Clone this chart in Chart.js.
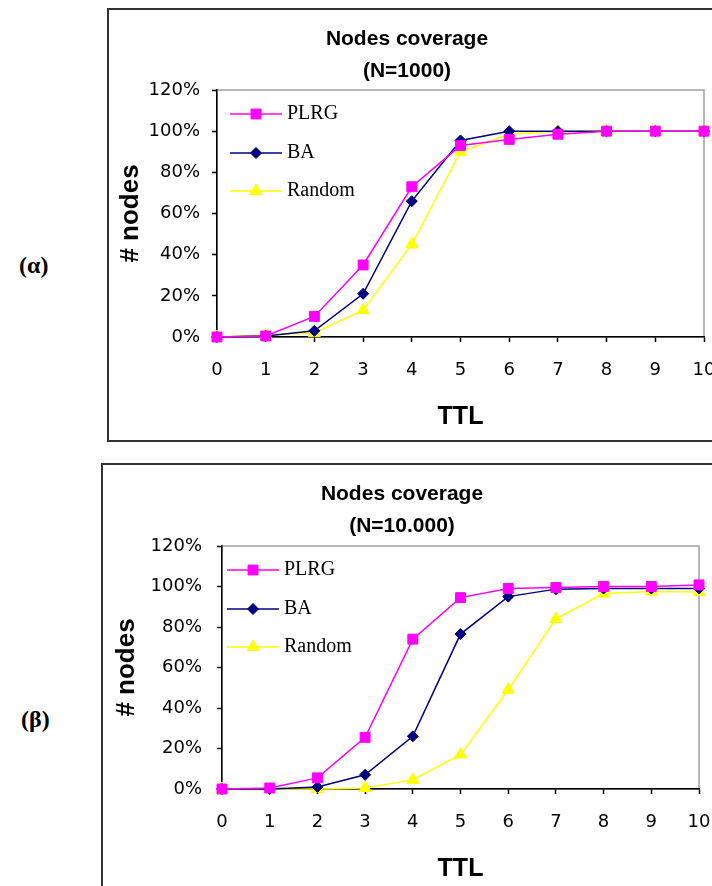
<!DOCTYPE html>
<html>
<head>
<meta charset="utf-8">
<script src="https://cdn.jsdelivr.net/npm/chart.js@4"></script>
<style>
  body { margin: 0; background: #fff; width: 712px; height: 886px; overflow: hidden; position: relative; }
  .box { position: absolute; border: 2px solid #333; background: #fff; }
  .tag { position: absolute; font: bold 24px "Liberation Serif", "Times New Roman", serif; color: #000; }
  canvas { position: absolute; }
</style>
</head>
<body>
<div class="tag" style="left:19px; top:252px;">(α)</div>
<div class="tag" style="left:21px; top:706px;">(β)</div>
<div class="box" style="left:107px; top:8px; width:640px; height:430px;"></div>
<div class="box" style="left:101px; top:463px; width:640px; height:460px;"></div>
<canvas id="c1" style="left:110px; top:12px;" width="602" height="426"></canvas>
<canvas id="c2" style="left:105px; top:467px;" width="607" height="419"></canvas>
<script>
const ttl = [0, 1, 2, 3, 4, 5, 6, 7, 8, 9, 10];
const seriesNames = ["PLRG", "BA", "Random"];

// N=1000
const plrg1000 = [0, 0.5, 10, 35, 73, 93, 96, 98.5, 100, 100, 100];
const ba1000 = [0, 0.5, 3, 21, 66, 95.5, 100, 100, 100, 100, 100];
const random1000 = [0, 1, 2, 13, 45, 90, 98.5, 100, 100, 100, 100];

// N=10.000
const plrg10000 = [0, 0.5, 5.5, 25.5, 74, 94.5, 99, 99.5, 100, 100, 100.8];
const ba10000 = [0, 0, 1, 7, 26, 76.5, 95, 98.7, 99, 99, 99];
const random10000 = [0, 0, 0, 0.5, 4.5, 17, 49, 84, 96.5, 97.5, 97.3];

const colors = ["#ff00ff", "#000080", "#ffff00"];
const markers = ["rect", "rectRot", "triangle"];
const markerSize = [7, 5.5, 7];

// plot frame: grey top/right, black axes drawn by the scales
const framePlugin = {
  id: "frame",
  beforeDraw(chart) {
    const a = chart.chartArea, ctx = chart.ctx;
    ctx.save();
    ctx.strokeStyle = "#a0a0a0";
    ctx.lineWidth = 1.5;
    ctx.strokeRect(a.left, a.top, a.right - a.left, a.bottom - a.top);
    ctx.restore();
  }
};

// legend with line + marker, inside the plot area top-left
const lineLegend = {
  id: "lineLegend",
  afterDatasetsDraw(chart, args, opts) {
    const a = chart.chartArea, ctx = chart.ctx;
    ctx.save();
    chart.data.datasets.forEach((ds, i) => {
      const y = a.top + opts.rows[i];
      const x0 = a.left + opts.x;
      ctx.strokeStyle = ds.borderColor;
      ctx.lineWidth = 1.5;
      ctx.beginPath();
      ctx.moveTo(x0, y);
      ctx.lineTo(x0 + 52, y);
      ctx.stroke();
      ctx.fillStyle = ds.borderColor;
      ctx.strokeStyle = ds.borderColor;
      ctx.lineWidth = 1;
      Chart.helpers.drawPoint(ctx, {pointStyle: ds.pointStyle, radius: ds.pointRadius, rotation: 0, borderWidth: 1}, x0 + 26, y);
      ctx.fillStyle = "#000";
      ctx.font = "20px 'Liberation Serif', 'Times New Roman', serif";
      ctx.textBaseline = "middle";
      ctx.textAlign = "left";
      ctx.fillText(ds.label, x0 + 57, y);
    });
    ctx.restore();
  }
};

function makeChart(id, subtitle, values, geo) {
  const datasets = values.map((v, i) => ({
    label: seriesNames[i],
    data: ttl.map((t, k) => ({x: t, y: v[k]})),
    borderColor: colors[i],
    backgroundColor: colors[i],
    borderWidth: 1.5,
    pointStyle: markers[i],
    pointRadius: markerSize[i],
    pointHoverRadius: markerSize[i],
    pointBorderWidth: 1,
    tension: 0,
    clip: false
  }));
  return new Chart(document.getElementById(id), {
    type: "line",
    data: { datasets },
    plugins: [framePlugin, lineLegend],
    options: {
      responsive: false,
      animation: false,
      layout: { padding: { left: 0, right: geo.right, top: 0, bottom: 0 } },
      plugins: {
        legend: { display: false },
        tooltip: { enabled: false },
        title: {
          display: true,
          text: ["Nodes coverage", subtitle],
          color: "#000",
          font: { family: "'Liberation Sans', Arial, sans-serif", size: 21, weight: "bold", lineHeight: "32px" },
          padding: { top: geo.titleTop, bottom: geo.titleBottom }
        },
        lineLegend: { x: geo.legendX, rows: [24, 63, 101] }
      },
      scales: {
        x: {
          type: "linear",
          min: 0,
          max: 10,
          afterFit: s => { s.height = geo.xHeight; s.paddingLeft = 0; s.paddingRight = 0; },
          ticks: {
            stepSize: 1,
            color: "#000",
            padding: 18,
            font: { family: "'DejaVu Sans', sans-serif", size: 18 }
          },
          grid: { drawOnChartArea: false, drawTicks: true, tickLength: 5, tickColor: "#000", tickWidth: 1.5 },
          border: { color: "#000", width: 1.5 },
          title: {
            display: true,
            text: "TTL",
            color: "#000",
            font: { family: "'Liberation Sans', Arial, sans-serif", size: 25, weight: "bold", lineHeight: 1.2 },
            padding: { top: 0, bottom: geo.ttlBottom }
          }
        },
        y: {
          min: 0,
          max: 120,
          afterFit: s => { s.width = geo.yWidth; s.paddingTop = 0; s.paddingBottom = 0; },
          ticks: {
            stepSize: 20,
            color: "#000",
            padding: geo.yPad,
            font: { family: "'DejaVu Sans', sans-serif", size: 18 },
            callback: v => v + "%"
          },
          grid: { drawOnChartArea: false, drawTicks: true, tickLength: 5, tickColor: "#000", tickWidth: 1.5 },
          border: { color: "#000", width: 1.5 },
          title: {
            display: true,
            text: "# nodes",
            color: "#000",
            font: { family: "'Liberation Sans', Arial, sans-serif", size: 26, weight: "bold", lineHeight: 1.2 },
            padding: { top: geo.yTitlePad, bottom: 0 }
          }
        }
      }
    }
  });
}

makeChart("c1", "(N=1000)", [plrg1000, ba1000, random1000],
  { right: 8, titleTop: 11, titleBottom: 3, xHeight: 101, ttlBottom: 6, yWidth: 107, yPad: 12, yTitlePad: 5, legendX: 13 });
makeChart("c2", "(N=10.000)", [plrg10000, ba10000, random10000],
  { right: 13, titleTop: 11, titleBottom: 4, xHeight: 97, ttlBottom: 2, yWidth: 117, yPad: 15, yTitlePad: 6, legendX: 5 });
</script>
</body>
</html>
